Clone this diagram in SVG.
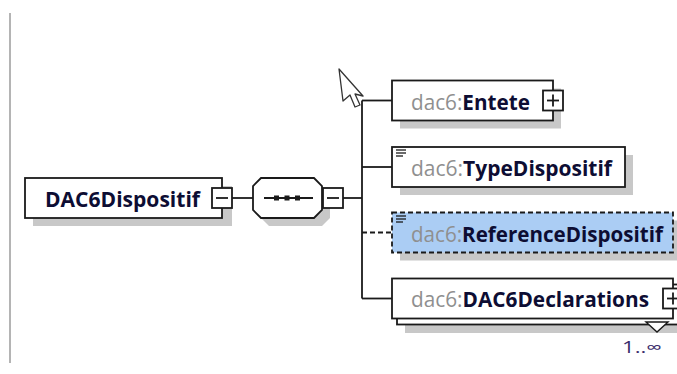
<svg xmlns="http://www.w3.org/2000/svg" width="677" height="374" viewBox="0 0 677 374">
<defs>
<style>
.box{fill:#ffffff;stroke:#1a1a1a;stroke-width:1.8}
.shadow{fill:#c8c8c8;stroke:none}
.line{fill:none;stroke:#1a1a1a;stroke-width:1.8}
.dash{fill:none;stroke:#1a1a1a;stroke-width:1.8;stroke-dasharray:5 3}
.txt{font-family:"Open Sans","Liberation Sans",Arial,sans-serif;font-size:21px}
.ns{fill:#8f8f8f;font-weight:normal}
.nm{fill:#0d0d33;font-weight:bold}
.occ{font-family:"Open Sans","Liberation Sans",Arial,sans-serif;font-size:16px;fill:#3a2d6b}
</style>
<g id="minus">
<rect class="box" x="-10" y="-10" width="20" height="20"/>
<line class="line" x1="-6" y1="0" x2="6" y2="0"/>
</g>
<g id="plus">
<rect class="box" x="-10" y="-10" width="20" height="20"/>
<line class="line" x1="-6" y1="0" x2="6" y2="0"/>
<line class="line" x1="0" y1="-6" x2="0" y2="6"/>
</g>
<g id="doc">
<line x1="0" y1="0" x2="10" y2="0" stroke="#1a1a1a" stroke-width="1.3"/>
<line x1="0" y1="3" x2="10" y2="3" stroke="#1a1a1a" stroke-width="1.3"/>
<line x1="0" y1="6" x2="7" y2="6" stroke="#1a1a1a" stroke-width="1.3"/>
</g>
</defs>
<rect x="0" y="0" width="677" height="374" fill="#ffffff"/>
<line x1="10" y1="13" x2="10" y2="363" stroke="#b4b4b4" stroke-width="2"/>

<g id="connectors">
<line class="line" x1="232" y1="198" x2="253" y2="198"/>
<line class="line" x1="343" y1="198" x2="362" y2="198"/>
<line class="line" x1="362" y1="100.5" x2="362" y2="298.5"/>
<line class="line" x1="362" y1="100.5" x2="392" y2="100.5"/>
<line class="line" x1="362" y1="167" x2="392" y2="167"/>
<line class="dash" x1="362" y1="232.5" x2="392" y2="232.5"/>
<line class="line" x1="362" y1="298.5" x2="392" y2="298.5"/>
</g>

<g id="DAC6Dispositif">
<rect class="shadow" x="33" y="186" width="199" height="40"/>
<rect class="box" x="25" y="178" width="197" height="40"/>
<text class="txt nm" x="45" y="207" textLength="155" lengthAdjust="spacingAndGlyphs">DAC6Dispositif</text>
<use href="#minus" x="222" y="198"/>
</g>

<g id="sequence">
<polygon class="shadow" points="269,186 322,186 330,194 330,218 322,226 269,226 261,218 261,194"/>
<polygon class="box" points="261,178 314,178 322,186 322,210 314,218 261,218 253,210 253,186"/>
<line class="line" x1="264" y1="198" x2="313" y2="198"/>
<rect x="274" y="195.5" width="5" height="5" fill="#1a1a1a"/>
<rect x="284.5" y="195.5" width="5" height="5" fill="#1a1a1a"/>
<rect x="295" y="195.5" width="5" height="5" fill="#1a1a1a"/>
<use href="#minus" x="333" y="198"/>
</g>

<g id="Entete">
<rect class="shadow" x="400" y="88.5" width="161" height="40"/>
<rect class="box" x="392" y="80.5" width="161" height="40"/>
<text class="txt" x="411" y="110" textLength="119" lengthAdjust="spacingAndGlyphs"><tspan class="ns">dac6:</tspan><tspan class="nm">Entete</tspan></text>
<use href="#plus" x="553" y="100.5"/>
</g>

<g id="TypeDispositif">
<rect class="shadow" x="400" y="155" width="233" height="40"/>
<rect class="box" x="392" y="147" width="233" height="40"/>
<use href="#doc" x="396" y="150"/>
<text class="txt" x="411" y="175.5" textLength="201" lengthAdjust="spacingAndGlyphs"><tspan class="ns">dac6:</tspan><tspan class="nm">TypeDispositif</tspan></text>
</g>

<g id="ReferenceDispositif">
<rect class="shadow" x="400" y="220.5" width="281" height="40"/>
<rect x="392" y="212.5" width="281" height="40" fill="#abcdf4" stroke="#1a1a1a" stroke-width="1.8" stroke-dasharray="5 3"/>
<use href="#doc" x="396" y="216"/>
<text class="txt" x="411" y="242" textLength="252" lengthAdjust="spacingAndGlyphs"><tspan class="ns">dac6:</tspan><tspan class="nm">ReferenceDispositif</tspan></text>
</g>

<g id="DAC6Declarations">
<rect class="shadow" x="405" y="293" width="281" height="40"/>
<rect class="box" x="397" y="284.5" width="281" height="40"/>
<rect class="box" x="392" y="278.5" width="281" height="40"/>
<text class="txt" x="411" y="307" textLength="238" lengthAdjust="spacingAndGlyphs"><tspan class="ns">dac6:</tspan><tspan class="nm">DAC6Declarations</tspan></text>
<use href="#plus" x="673" y="298.5"/>
<polygon points="646,322 668,322 657,332" fill="#ffffff" stroke="#1a1a1a" stroke-width="1.4"/>
<text class="occ" x="622" y="353" textLength="40" lengthAdjust="spacingAndGlyphs">1..∞</text>
</g>

<g id="cursor">
<path d="M339,69 L343,101 L350,95 L355,107 L360,105 L355,94 L363,96 Z" fill="#ffffff" stroke="#333333" stroke-width="1.3" stroke-linejoin="round"/>
</g>
</svg>
